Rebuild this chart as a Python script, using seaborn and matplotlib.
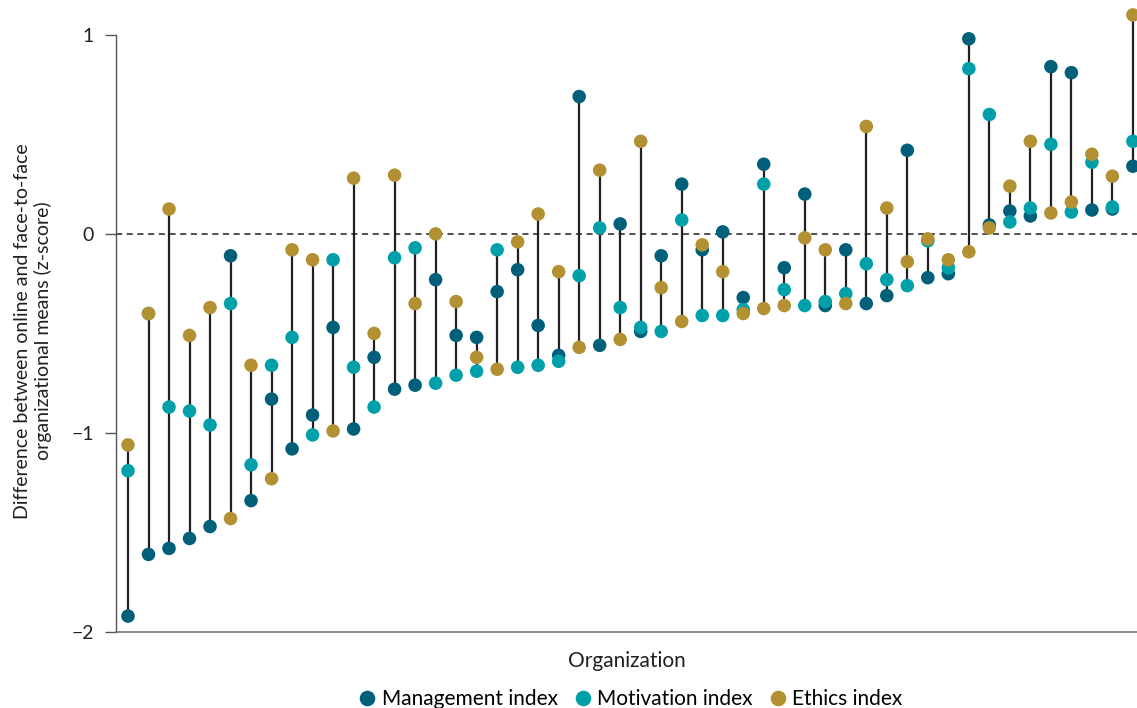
import numpy as np
import pandas as pd
import matplotlib
matplotlib.use('Agg')
import matplotlib.pyplot as plt
import seaborn as sns

#Values, organizations ordered left to right
management = [-1.92, -1.61, -1.58, -1.53, -1.47, -0.11, -1.34, -0.83, -1.08, -0.91,
              -0.47, -0.98, -0.62, -0.78, -0.76, -0.23, -0.51, -0.52, -0.29, -0.18,
              -0.46, -0.61, 0.69, -0.56, 0.05, -0.49, -0.11, 0.25, -0.08, 0.01,
              -0.32, 0.35, -0.17, 0.20, -0.36, -0.08, -0.35, -0.31, 0.42, -0.22,
              -0.20, 0.98, 0.045, 0.115, 0.09, 0.84, 0.81, 0.12, 0.125, 0.34]
motivation = [-1.19, -0.40, -0.87, -0.89, -0.96, -0.35, -1.16, -0.66, -0.52, -1.01,
              -0.13, -0.67, -0.87, -0.12, -0.07, -0.75, -0.71, -0.69, -0.08, -0.67,
              -0.66, -0.64, -0.21, 0.03, -0.37, -0.47, -0.49, 0.07, -0.41, -0.41,
              -0.38, 0.25, -0.28, -0.36, -0.34, -0.30, -0.15, -0.23, -0.26, -0.035,
              -0.17, 0.83, 0.60, 0.06, 0.13, 0.45, 0.11, 0.36, 0.135, 0.465]
ethics = [-1.06, -0.40, 0.125, -0.51, -0.37, -1.43, -0.66, -1.23, -0.08, -0.13,
          -0.99, 0.28, -0.50, 0.295, -0.35, 0.00, -0.34, -0.62, -0.68, -0.04,
          0.10, -0.19, -0.57, 0.32, -0.53, 0.465, -0.27, -0.44, -0.055, -0.19,
          -0.40, -0.375, -0.36, -0.02, -0.08, -0.35, 0.54, 0.13, -0.14, -0.025,
          -0.13, -0.09, 0.03, 0.24, 0.465, 0.105, 0.16, 0.40, 0.29, 1.10]

labels = ['Management index', 'Motivation index', 'Ethics index']
palette = {'Management index': '#00607a', 'Motivation index': '#00a0ab', 'Ethics index': '#b39132'}

df = pd.DataFrame({'org': np.arange(len(management)),
                   'Management index': management,
                   'Motivation index': motivation,
                   'Ethics index': ethics})
long = df.melt(id_vars='org', var_name='index', value_name='value')

plt.rcParams['font.family'] = ['Lato', 'DejaVu Sans']

fig = plt.figure(figsize=(11.37, 7.08), dpi=100)
ax = fig.add_axes([116/1137, 1 - 632/708, 1 - 116/1137, 632/708])

#Connector from lowest to highest index for each organization
lo = df[labels].min(axis=1)
hi = df[labels].max(axis=1)
ax.vlines(df.org, lo, hi, color='#231f20', linewidth=1.6, zorder=2)

#Zero line
ax.axhline(0, color='#231f20', linewidth=1.1, linestyle=(0, (4, 3)), zorder=1)

sns.scatterplot(data=long, x='org', y='value', hue='index', hue_order=labels,
                palette=palette, s=95, edgecolor='none', linewidth=0,
                ax=ax, zorder=3, clip_on=False)

ax.set_xlim(-0.585, 49.2)
ax.set_ylim(-2, 1.175)
ax.set_yticks([-2, -1, 0, 1])
ax.set_xticks([])

for s in ['top', 'right']:
    ax.spines[s].set_visible(False)
ax.spines['left'].set_bounds(-2, 1)
ax.spines['left'].set_color('#555555')
ax.spines['bottom'].set_color('#777777')
ax.spines['left'].set_linewidth(1.0)
ax.spines['bottom'].set_linewidth(1.2)
ax.tick_params(axis='y', length=8, width=1.0, color='#555555', labelsize=14,
               labelcolor='#231f20', pad=8)

ax.set_xlabel('Organization', fontsize=15, color='#231f20', labelpad=14)
ax.set_ylabel('Difference between online and face-to-face\norganizational means (z-score)',
              fontsize=14, color='#231f20', linespacing=1.15)
ax.yaxis.set_label_coords(-0.063, 0.476)

ax.legend(loc='upper center', bbox_to_anchor=(0.503, -0.077), ncol=3, frameon=False,
          fontsize=15, handlelength=1.0, handletextpad=0.2, columnspacing=0.7,
          markerscale=1.15, borderaxespad=0)

plt.savefig('out.png', dpi=100)
